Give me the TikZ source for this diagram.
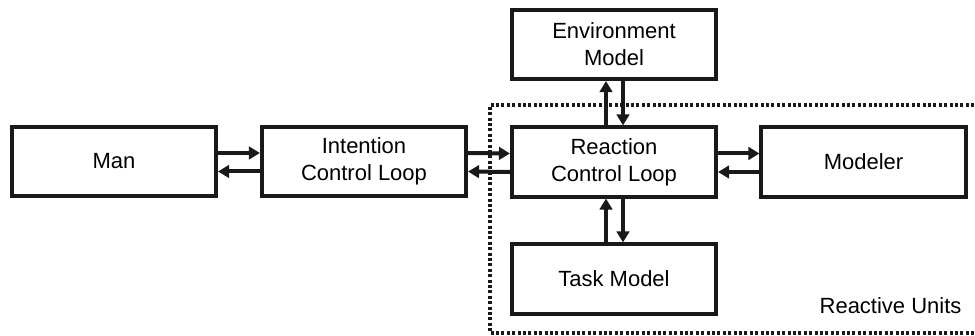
\documentclass[tikz,border=0pt]{standalone}
\usepackage{fontspec}
\setmainfont{Liberation Sans}
\usetikzlibrary{arrows.meta}
\begin{document}
\begin{tikzpicture}[x=1pt,y=-1pt,
  blk/.style={draw=black!90,line width=3.6pt,minimum width=204.5pt,minimum height=69.5pt,
    inner sep=0pt,align=center,font=\fontsize{22}{27}\selectfont},
  arr/.style={draw=black!90,line width=4pt,
    -{Triangle[length=11pt,width=12.5pt]}},
  region/.style={draw=black!90,line width=3.6pt,dash pattern=on 3pt off 2.4pt}]
\useasboundingbox (0,0) rectangle (975,336);

% reactive units boundary (open to the right)
\draw[region] (985,105) -- (490,105) -- (490,333) -- (985,333);
\node[anchor=base east,font=\fontsize{22}{27}\selectfont] (ru) at (965,314) {Reactive Units};

% blocks
\node[blk] (man) at (114,161.5) {Man};
\node[blk] (intent) at (364,161.5) {Intention\\Control Loop};
\node[blk] (react) at (614,162) {Reaction\\Control Loop};
\node[blk] (env) at (614,44.5) {Environment\\Model};
\node[blk] (modeler) at (863.5,162) {Modeler};
\node[blk] (task) at (614,279) {Task Model};

% horizontal exchanges
\draw[arr] ([yshift=8.5pt]man.east) -- ([yshift=8.5pt]intent.west);
\draw[arr] ([yshift=-10pt]intent.west) -- ([yshift=-10pt]man.east);
\draw[arr] ([yshift=8.5pt]intent.east) -- ([yshift=8.5pt]react.west);
\draw[arr] ([yshift=-10pt]react.west) -- ([yshift=-10pt]intent.east);
\draw[arr] ([yshift=8.5pt]react.east) -- ([yshift=8.5pt]modeler.west);
\draw[arr] ([yshift=-10pt]modeler.west) -- ([yshift=-10pt]react.east);

% vertical exchanges
\draw[arr] ([xshift=-8pt]react.north) -- ([xshift=-8pt]env.south);
\draw[arr] ([xshift=9pt]env.south) -- ([xshift=9pt]react.north);
\draw[arr] ([xshift=-8pt]task.north) -- ([xshift=-8pt]react.south);
\draw[arr] ([xshift=9pt]react.south) -- ([xshift=9pt]task.north);
\end{tikzpicture}
\end{document}
